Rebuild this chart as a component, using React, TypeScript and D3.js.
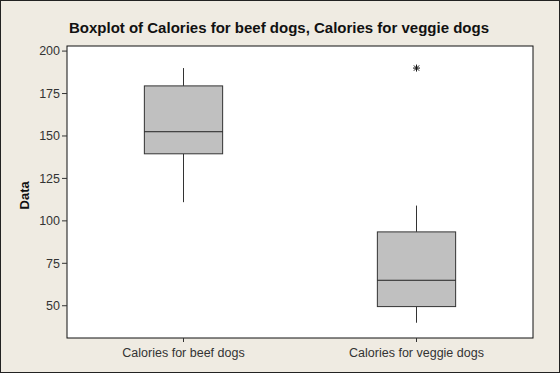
import React from "react";
import * as d3 from "d3";

const title = "Boxplot of Calories for beef dogs, Calories for veggie dogs";
const categories = ["Calories for beef dogs", "Calories for veggie dogs"];
const q1 = [139.5, 49.5];
const median = [152.5, 65];
const q3 = [179.5, 93.5];
const whiskerLow = [111, 40];
const whiskerHigh = [190, 109];
const outliers: number[][] = [[], [190]];
const yTicks = [50, 75, 100, 125, 150, 175, 200];

const W = 560;
const H = 373;
const M = { left: 67, right: 27, top: 46, bottom: 35 };

export default function App() {
  const x = d3.scaleLinear().domain([0.5, 2.5]).range([M.left, W - M.right]);
  const y = d3.scaleLinear().domain([31, 203]).range([H - M.bottom, M.top]);
  const halfW = x(1.168) - x(1);
  const axisColor = "#333";
  const font = "Tahoma, 'Liberation Sans', Arial, sans-serif";
  return (
    <svg width={W} height={H} style={{ position: "absolute", left: 0, top: 0, display: "block" }}>
      <rect x={0} y={0} width={W} height={H} fill="#efebe2" />
      <rect x={0.5} y={0.5} width={W - 1} height={H - 1} fill="none" stroke="#222" strokeWidth={1} />
      <text x={279} y={33} textAnchor="middle" fontFamily={font} fontWeight="bold" fontSize={15} fill="#111">
        {title}
      </text>
      <rect
        x={M.left}
        y={M.top}
        width={W - M.left - M.right}
        height={H - M.top - M.bottom}
        fill="#fff"
        stroke="#111"
        strokeWidth={1}
      />
      {yTicks.map((t) => (
        <g key={t}>
          <line x1={M.left - 5} x2={M.left} y1={y(t)} y2={y(t)} stroke={axisColor} />
          <text x={M.left - 7} y={y(t)} dy="0.35em" textAnchor="end" fontFamily={font} fontSize={12.5} fill="#333">
            {t}
          </text>
        </g>
      ))}
      {categories.map((c, i) => (
        <g key={c}>
          <line x1={x(i + 1)} x2={x(i + 1)} y1={H - M.bottom} y2={H - M.bottom + 4} stroke={axisColor} />
          <text x={x(i + 1)} y={H - M.bottom + 19} textAnchor="middle" fontFamily={font} fontSize={12.5} fill="#333">
            {c}
          </text>
        </g>
      ))}
      <text
        transform={`translate(${24},${y(115)}) rotate(-90)`}
        textAnchor="middle"
        dy="0.35em"
        fontFamily={font}
        fontWeight="bold"
        fontSize={13}
        fill="#111"
      >
        Data
      </text>
      {categories.map((c, i) => {
        const cx = x(i + 1);
        return (
          <g key={"box" + c}>
            <line x1={cx} x2={cx} y1={y(whiskerHigh[i])} y2={y(q3[i])} stroke="#333" strokeWidth={1} />
            <line x1={cx} x2={cx} y1={y(q1[i])} y2={y(whiskerLow[i])} stroke="#333" strokeWidth={1} />
            <rect
              x={cx - halfW}
              y={y(q3[i])}
              width={halfW * 2}
              height={y(q1[i]) - y(q3[i])}
              fill="#c0c0c0"
              stroke="#333"
              strokeWidth={1}
            />
            <line x1={cx - halfW} x2={cx + halfW} y1={y(median[i])} y2={y(median[i])} stroke="#222" strokeWidth={1} />
            {outliers[i].map((o, k) => {
              const oy = y(o);
              const r = 3.5;
              return (
                <path
                  key={k}
                  d={`M${cx - r},${oy}H${cx + r}M${cx},${oy - r}V${oy + r}M${cx - r * 0.75},${oy - r * 0.75}L${cx + r * 0.75},${oy + r * 0.75}M${cx - r * 0.75},${oy + r * 0.75}L${cx + r * 0.75},${oy - r * 0.75}`}
                  stroke="#111"
                  strokeWidth={1}
                  fill="none"
                />
              );
            })}
          </g>
        );
      })}
    </svg>
  );
}
